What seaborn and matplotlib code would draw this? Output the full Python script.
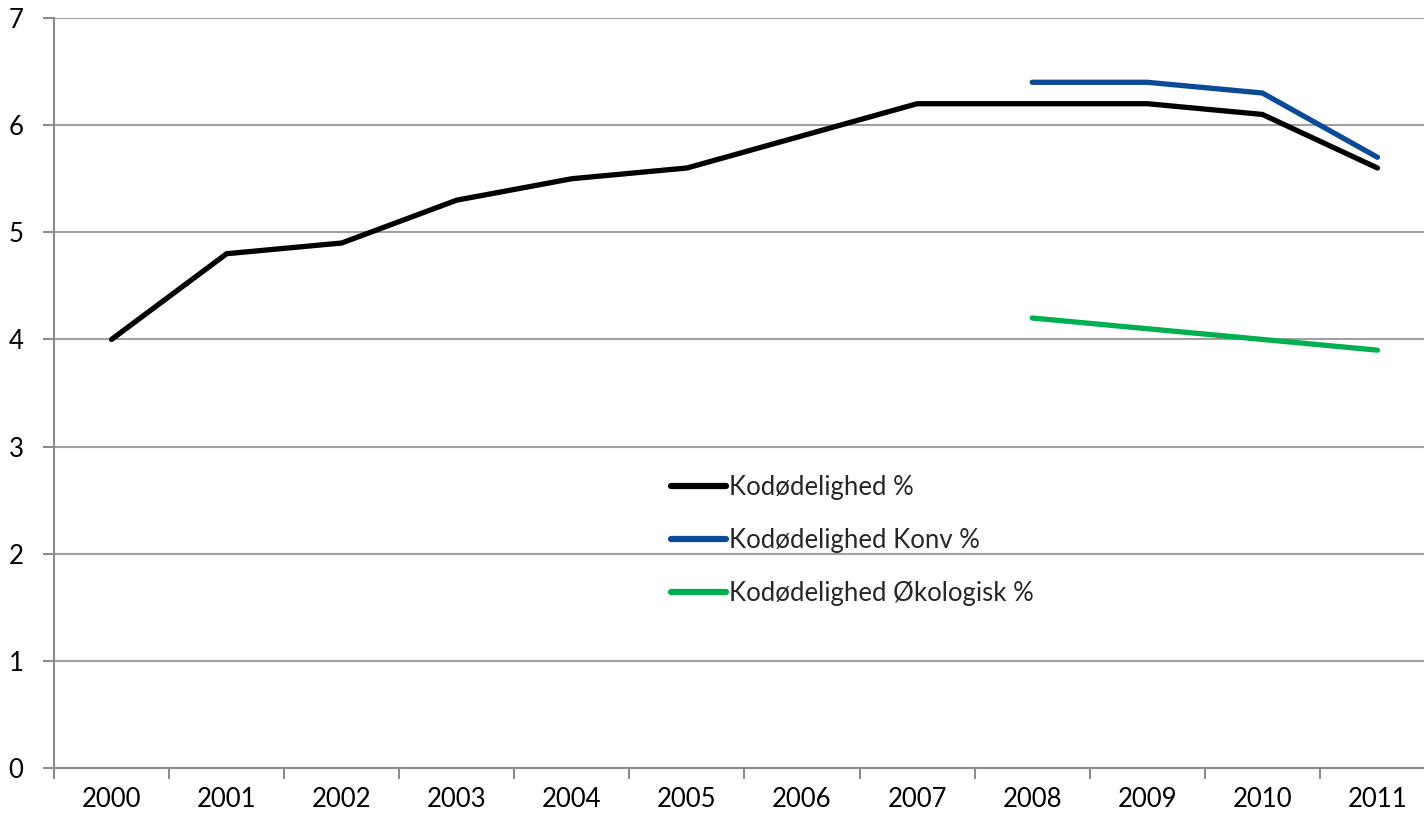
import matplotlib
matplotlib.use("Agg")
import matplotlib.pyplot as plt
import seaborn as sns
import pandas as pd
import numpy as np

years = ["2000", "2001", "2002", "2003", "2004", "2005",
         "2006", "2007", "2008", "2009", "2010", "2011"]
kodoedelighed = [4.0, 4.8, 4.9, 5.3, 5.5, 5.6, 5.9, 6.2, 6.2, 6.2, 6.1, 5.6]
konv_years = ["2008", "2009", "2010", "2011"]
kodoedelighed_konv = [6.4, 6.4, 6.3, 5.7]
oeko_years = ["2008", "2009", "2010", "2011"]
kodoedelighed_oeko = [4.2, 4.1, 4.0, 3.9]

series_names = ["Kodødelighed %", "Kodødelighed Konv %", "Kodødelighed Økologisk %"]
series_colors = ["#000000", "#0b4a94", "#00b050"]

pos = {y: i for i, y in enumerate(years)}
frames = []
for name, yrs, vals in zip(series_names,
                           [years, konv_years, oeko_years],
                           [kodoedelighed, kodoedelighed_konv, kodoedelighed_oeko]):
    frames.append(pd.DataFrame({"x": [pos[y] for y in yrs], "value": vals, "serie": name}))
df = pd.concat(frames, ignore_index=True)

sns.set_theme(style="white")
plt.rcParams["font.family"] = ["Lato", "DejaVu Sans"]

FS = 18.5
fig = plt.figure(figsize=(14.24, 8.15), dpi=100)
ax = fig.add_axes([54 / 1424, 47 / 815, 1381 / 1424, 750 / 815])

sns.lineplot(data=df, x="x", y="value", hue="serie", hue_order=series_names,
             palette=series_colors, linewidth=3.8, ax=ax, legend=True,
             solid_capstyle="round", solid_joinstyle="miter")

ax.set_xlim(-0.5, len(years) - 0.5)
ax.set_ylim(0, 7)
ax.set_yticks(range(0, 8))
ax.set_yticklabels([str(v) for v in range(0, 8)], fontsize=FS, color="#000000")
ax.set_xticks(range(len(years)))
ax.set_xticklabels(years, fontsize=FS, color="#000000")
ax.set_xticks(np.arange(-0.5, len(years), 1.0), minor=True)
ax.tick_params(axis="x", which="major", bottom=True, length=0, pad=14)
ax.tick_params(axis="x", which="minor", bottom=True, length=8, width=1.5,
               color="#8c8c8c", direction="out")
ax.tick_params(axis="y", which="major", left=True, length=8, width=1.5,
               color="#8c8c8c", direction="out", pad=14)
ax.set_xlabel("")
ax.set_ylabel("")

ax.yaxis.grid(True, color="#a0a0a0", linewidth=1.5)
ax.xaxis.grid(False)
ax.set_axisbelow(True)
for side in ["top", "right"]:
    ax.spines[side].set_visible(False)
for side in ["left", "bottom"]:
    ax.spines[side].set_color("#8c8c8c")
    ax.spines[side].set_linewidth(1.5)

handles, labels = ax.get_legend_handles_labels()
leg = ax.legend(handles, labels, loc="upper left",
                bbox_to_anchor=(671 / 1424, (815 - 475) / 815),
                bbox_transform=fig.transFigure, frameon=False, fontsize=FS,
                handlelength=2.15, handletextpad=0.12, labelspacing=1.08,
                borderaxespad=0, borderpad=0)
for line in leg.get_lines():
    line.set_linewidth(4.5)

fig.savefig("out.png", dpi=100)
